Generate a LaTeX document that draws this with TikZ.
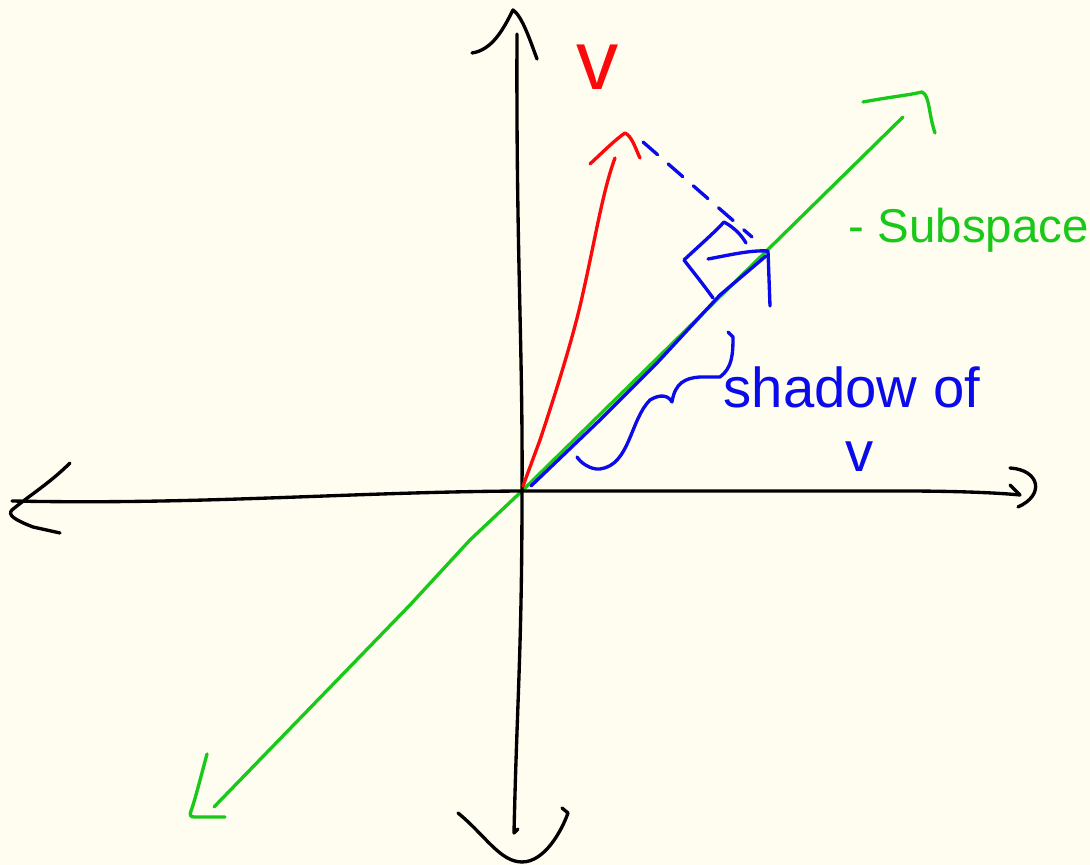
\documentclass[tikz,border=0pt]{standalone}
\usepackage{fontspec}
\setsansfont{Liberation Sans}
\usepackage{tikz}
\usetikzlibrary{calc}

\definecolor{papercream}{RGB}{255,253,240}
\definecolor{penred}{RGB}{250,10,10}
\definecolor{penblue}{RGB}{10,10,235}
\definecolor{pengreen}{RGB}{25,200,25}

\tikzset{
  pen/.style={line width=0.95pt, line cap=round, line join=round},
  axispen/.style={pen, black},
  subpen/.style={pen, pengreen},
  vpen/.style={pen, penred},
  shadowpen/.style={pen, penblue},
  droppen/.style={pen, penblue, dash pattern=on 5.5pt off 4pt},
  scribble/.style={inner sep=0pt, font=\sffamily}
}

\begin{document}
\begin{tikzpicture}[x=0.01cm, y=-0.01cm]
  \fill[papercream] (0,0) rectangle (1090,865);
  \useasboundingbox (0,0) rectangle (1090,865);

  \coordinate (O) at (522,491);
  \coordinate (vtip) at (615,158);
  \coordinate (stip) at (766,256);
  \coordinate (subtop) at (903,117);
  \coordinate (subbot) at (214,807);

  \draw[subpen] (subtop) -- (O) -- (470,540) -- (410,605) -- (subbot);
  \draw[subpen] (863,102) .. controls (890,97) and (910,95) .. (922,92) .. controls (930,96) and (928,112) .. (935,133);
  \draw[subpen] (207,754) .. controls (200,780) and (195,800) .. (191,811) .. controls (189,816) and (191,817) .. (195,817) -- (225,817);

  \draw[axispen] (517,34) .. controls (516,250) and (523,350) .. (O) .. controls (522,650) and (517,700) .. (514,833) -- (518,829);
  \draw[axispen] (472,53) .. controls (492,50) and (503,30) .. (513,10) .. controls (522,16) and (530,40) .. (537,59);
  \draw[axispen] (458,813) .. controls (485,835) and (500,862) .. (522,862) .. controls (545,862) and (562,830) .. (568,813) -- (562,808);
  \draw[axispen] (12,501) .. controls (200,505) and (350,492) .. (O) -- (900,491) .. controls (960,491) and (1000,493) .. (1020,495);
  \draw[axispen] (70,463) .. controls (50,483) and (30,495) .. (12,510) .. controls (7,515) and (15,520) .. (33,527) -- (60,533);
  \draw[axispen] (1010,485) -- (1020,495);
  \draw[axispen] (1010,468) .. controls (1040,470) and (1045,495) .. (1018,507);

  \draw[vpen] (523,486) -- (540,440) .. controls (560,380) and (575,330) .. (583,293) .. controls (595,240) and (603,190) .. (vtip);
  \draw[vpen] (590,164) .. controls (605,150) and (615,140) .. (625,133) .. controls (632,136) and (636,150) .. (640,158);

  \draw[droppen] (643,142) -- (752,237);
  \draw[shadowpen] (713,298) .. controls (700,280) and (690,268) .. (684,260) .. controls (700,245) and (715,232) .. (724,222) .. controls (735,228) and (742,236) .. (746,243);

  \draw[shadowpen] (531,486) -- (600,420) -- (657,363) -- (720,295) -- (stip);
  \draw[shadowpen] (708,259) .. controls (730,255) and (750,250) .. (768,251) -- (770,306);

  \draw[shadowpen] (728,332) -- (733,337) .. controls (733,355) and (732,368) .. (720,377) -- (700,377) .. controls (685,378) and (675,383) .. (672,402) .. controls (668,395) and (660,394) .. (650,400) .. controls (630,420) and (630,465) .. (600,469) .. controls (590,470) and (580,462) .. (577,457);

  \node[scribble, text=penred, font=\sffamily\fontsize{24}{28}\selectfont, anchor=base] (vlabel) at (598,90) {v};
  \node[scribble, text=pengreen, font=\sffamily\fontsize{13.5}{16}\selectfont, anchor=base west] (sublabel) at (848,243) {- Subspace};
  \node[scribble, text=penblue, font=\sffamily\fontsize{16}{19}\selectfont, anchor=base west] (shadowlabel) at (723,408) {shadow of};
  \node[scribble, text=penblue, font=\sffamily\fontsize{16}{19}\selectfont, anchor=base] (shadowv) at (860,472) {v};
\end{tikzpicture}
\end{document}
